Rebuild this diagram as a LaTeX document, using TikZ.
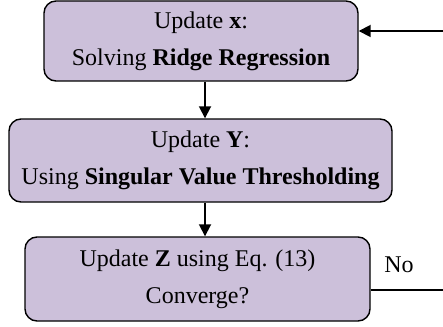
\documentclass[tikz,border=0pt]{standalone}
\usepackage{fontspec}
\setmainfont{Liberation Serif}
\usetikzlibrary{arrows.meta}
\definecolor{boxpurple}{RGB}{204,192,218}
\tikzset{
  stepbox/.style={draw, line width=0.7pt, rounded corners=6pt, fill=boxpurple, align=center,
    font=\fontsize{12}{18.5}\selectfont, inner sep=0pt},
  flow/.style={line width=0.9pt, -{Triangle[length=6pt,width=6pt]}}
}
\begin{document}
\begin{tikzpicture}[x=0.5pt, y=-0.5pt]
\useasboundingbox (0,0) rectangle (443,326);
\node[stepbox, minimum width=157pt, minimum height=40pt] (upx) at (201,41) {Update \textbf{x}:\\Solving \textbf{Ridge Regression}};
\node[stepbox, minimum width=191.5pt, minimum height=41.5pt] (upy) at (200.5,160.5) {Update \textbf{Y}:\\Using \textbf{Singular Value Thresholding}};
\node[stepbox, minimum width=172.5pt, minimum height=42pt] (upz) at (197.5,279) {Update \textbf{Z} using Eq. (13)\\Converge?};
\node[anchor=base, font=\fontsize{12}{14}\selectfont, inner sep=0pt] (no) at (399,272) {No};
\coordinate (spine) at (205,0);
\coordinate (back) at (448,160);
\draw[flow] (upx.south -| spine) -- (upy.north -| spine);
\draw[flow] (upy.south -| spine) -- (upz.north -| spine);
\draw[flow] ([yshift=-5.5pt]upz.east) -| (back) |- ([yshift=5pt]upx.east);
\end{tikzpicture}
\end{document}
